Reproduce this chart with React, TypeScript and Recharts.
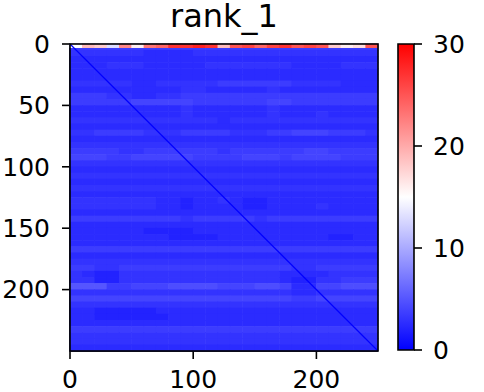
import {
  Bar,
  BarChart,
  Scatter,
  ScatterChart,
  XAxis,
  YAxis,
} from "recharts";

// matrix is 250 x 250 in blocks of 10 columns x 5 rows
const SIZE = 250;
const COL_STEP = 10;
const ROW_STEP = 5;
const STRIP_ROWS = 3;

const xTicks = [0, 100, 200];
const yTicks = [0, 50, 100, 150, 200];
const barTicks = [0, 10, 20, 30];

// first rows (0-2), one value per 10 columns
const topStrip = [
  15, 19, 18, 13, 22, 16, 23, 24, 27, 27, 28, 27, 19, 25, 26, 24, 26, 27, 25,
  26, 25, 18, 16, 17, 25,
];

// one char per block, base 36, in half rank units ("5" = 2.5)
const gridRows = [
  "7777777777777777777777777",
  "6666665555666666666666666",
  "5555555555555555555555555",
  "5556665555566666665555666",
  "5555555555555555555555555",
  "5555555555555555555555555",
  "6666655666667777776666555",
  "5555555556655555655555555",
  "7776655667777777777777777",
  "7777788888777777887777777",
  "5555555556555555655555555",
  "5555555556555555655565555",
  "6666666666665666666666666",
  "5555555555555555555555555",
  "6677776667777666778887776",
  "5555555555555555555555555",
  "6666666666666666666666666",
  "7777667777776777777887777",
  "8887788888777788878888777",
  "6666666666666666666666666",
  "5555555555555555555555555",
  "6666666666666666666666666",
  "5555555555555555555555555",
  "6666666666666666666666666",
  "5555555555555555555555555",
  "6666666554556544555555555",
  "6666666554555544555565555",
  "5555555555555555555555555",
  "7777777776777776777777777",
  "5555555555555555555555555",
  "5555554444555555555555555",
  "5555555544445555555554455",
  "5555555555555555555555555",
  "7777777777777777777777777",
  "5555555555555555555555555",
  "6666666666666666666666666",
  "7766777777777777776677777",
  "6544666666666666655556666",
  "6644666666666666654466777",
  "aaa7788899998889985588999",
  "6666666666666666665566666",
  "8888888888888888887788888",
  "6666666666666666666666666",
  "5544444555555555555555555",
  "5544444455555555555555555",
  "5555555555555555555555555",
  "7777777777777777777777777",
  "6666666666666666666666666",
  "6666666666666666666666666",
  "5555555555555555555555555",
];

const diagonal = [
  { x: 0, y: 0 },
  { x: SIZE, y: SIZE },
];

// whole matrix as one block, for the black frame on top of the cells
const frameBlock = [{ x: SIZE / 2, y: SIZE / 2, w: SIZE, h: SIZE }];

const VMAX = 30;
const FONT = "DejaVu Sans";

// heatmap plot box
const PLOT_W = 308;
const PLOT_H = 307;
const pxX = PLOT_W / SIZE;
const pxY = PLOT_H / SIZE;

function bwr(v: number) {
  const t = Math.max(0, Math.min(1, v / VMAX));
  if (t <= 0.5) {
    const c = Math.round(510 * t);
    return `rgb(${c},${c},255)`;
  }
  const c = Math.round(255 * (2 - 2 * t));
  return `rgb(255,${c},${c})`;
}

type Cell = { x: number; y: number; v: number; w: number; h: number };

const gridCells: Cell[] = gridRows.flatMap((row, r) =>
  row.split("").map((ch, c) => ({
    x: c * COL_STEP + COL_STEP / 2,
    y: r * ROW_STEP + ROW_STEP / 2,
    v: parseInt(ch, 36) / 2,
    w: COL_STEP,
    h: ROW_STEP,
  }))
);

const stripCells: Cell[] = topStrip.map((v, c) => ({
  x: c * COL_STEP + COL_STEP / 2,
  y: STRIP_ROWS / 2,
  v,
  w: COL_STEP,
  h: STRIP_ROWS,
}));

const HeatCell = (props: any) => {
  const { cx, cy, payload } = props;
  const w = payload.w * pxX;
  const h = payload.h * pxY;
  return (
    <rect
      x={cx - w / 2 - 0.3}
      y={cy - h / 2 - 0.3}
      width={w + 0.6}
      height={h + 0.6}
      fill={bwr(payload.v)}
    />
  );
};

const FrameRect = (props: any) => {
  const { cx, cy, payload } = props;
  const w = payload.w * pxX;
  const h = payload.h * pxY;
  return (
    <rect
      x={cx - w / 2}
      y={cy - h / 2}
      width={w}
      height={h}
      fill="none"
      stroke="#000"
      strokeWidth={1.6}
    />
  );
};

const NoDot = () => <g />;

const tickStyle = { fill: "#000", fontSize: 25, fontFamily: FONT };
const spine = { stroke: "#000", strokeWidth: 1.6 };

export default function App() {
  return (
    <div
      style={{
        position: "absolute",
        left: 0,
        top: 0,
        width: 484,
        height: 392,
        background: "#fff",
        fontFamily: FONT,
      }}
    >
      <div
        style={{
          position: "absolute",
          left: 70,
          top: -4,
          width: PLOT_W,
          textAlign: "center",
          fontSize: 32,
          lineHeight: "40px",
        }}
      >
        rank_1
      </div>
      <div style={{ position: "absolute", left: 0, top: 0 }}>
        <ScatterChart
          width={390}
          height={392}
          margin={{ top: 44, right: 12, bottom: 0, left: 0 }}
        >
          <XAxis
            type="number"
            dataKey="x"
            domain={[0, SIZE]}
            ticks={xTicks}
            height={41}
            tickSize={8}
            tickMargin={11}
            tick={tickStyle}
            axisLine={spine}
            tickLine={spine}
          />
          <YAxis
            type="number"
            dataKey="y"
            reversed
            domain={[0, SIZE]}
            ticks={yTicks}
            width={70}
            tickSize={8}
            tickMargin={12}
            tick={tickStyle}
            axisLine={spine}
            tickLine={spine}
          />
          <Scatter
            data={gridCells}
            shape={HeatCell}
            isAnimationActive={false}
          />
          <Scatter
            data={stripCells}
            shape={HeatCell}
            isAnimationActive={false}
          />
          <Scatter
            data={diagonal}
            shape={NoDot}
            line={{ stroke: "#0000ff", strokeWidth: 1.2 }}
            isAnimationActive={false}
          />
          <Scatter
            data={frameBlock}
            shape={FrameRect}
            isAnimationActive={false}
          />
        </ScatterChart>
      </div>
      <div style={{ position: "absolute", left: 390, top: 0 }}>
        <BarChart
          width={94}
          height={392}
          data={[{ name: "rank", v: VMAX }]}
          margin={{ top: 44, right: 0, bottom: 42, left: 8 }}
          barCategoryGap={0}
        >
          <defs>
            <linearGradient id="bwrGrad" x1="0" y1="1" x2="0" y2="0">
              <stop offset="0%" stopColor={bwr(0)} />
              <stop offset="50%" stopColor={bwr(VMAX / 2)} />
              <stop offset="100%" stopColor={bwr(VMAX)} />
            </linearGradient>
          </defs>
          <XAxis dataKey="name" hide />
          <YAxis
            orientation="right"
            type="number"
            domain={[0, VMAX]}
            ticks={barTicks}
            width={70}
            tickSize={8}
            tickMargin={11}
            tick={tickStyle}
            axisLine={false}
            tickLine={spine}
          />
          <Bar
            dataKey="v"
            fill="url(#bwrGrad)"
            stroke="#000"
            strokeWidth={1.6}
            isAnimationActive={false}
          />
        </BarChart>
      </div>
    </div>
  );
}
